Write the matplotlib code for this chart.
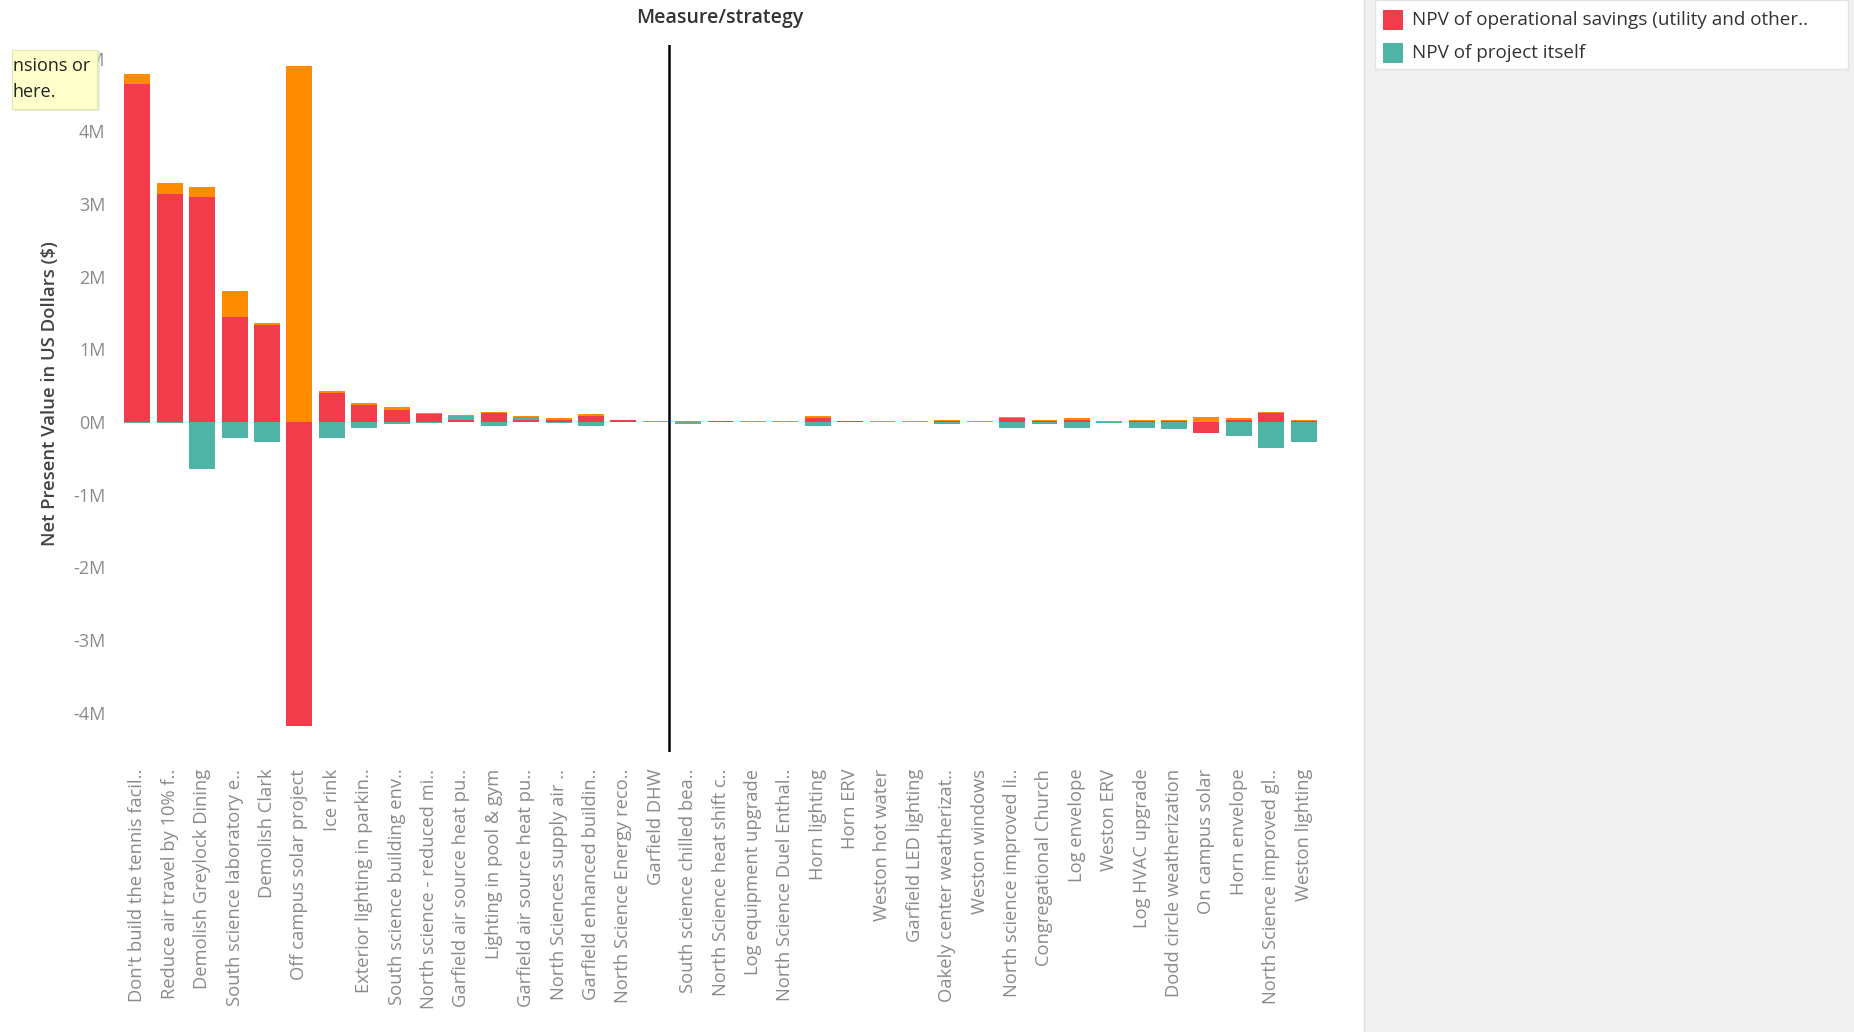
import matplotlib
matplotlib.use("Agg")
import matplotlib.pyplot as plt
import numpy as np
from matplotlib.patches import Rectangle

plt.rcParams['font.family'] = ['Open Sans', 'DejaVu Sans']

categories = [
    "Don't build the tennis facil..", "Reduce air travel by 10% f..", "Demolish Greylock Dining",
    "South science laboratory e..", "Demolish Clark", "Off campus solar project", "Ice rink",
    "Exterior lighting in parkin..", "South science building env..", "North science - reduced mi..",
    "Garfield air source heat pu..", "Lighting in pool & gym", "Garfield air source heat pu..",
    "North Sciences supply air ..", "Garfield enhanced buildin..", "North Science Energy reco..",
    "Garfield DHW", "South science chilled bea..", "North Science heat shift c..",
    "Log equipment upgrade", "North Science Duel Enthal..", "Horn lighting", "Horn ERV",
    "Weston hot water", "Garfield LED lighting", "Oakely center weatherizat..", "Weston windows",
    "North science improved li..", "Congregational Church", "Log envelope", "Weston ERV",
    "Log HVAC upgrade", "Dodd circle weatherization", "On campus solar", "Horn envelope",
    "North Science improved gl..", "Weston lighting",
]

# values in millions of US dollars
npv_operational = [4.65, 3.14, 3.10, 1.44, 1.33, -4.18, 0.40, 0.24, 0.17, 0.11,
                   0.03, 0.13, 0.03, 0.035, 0.09, 0.025, 0.0, 0.0, 0.015, 0.0,
                   0.0, 0.06, 0.015, 0.0, 0.0, 0.02, 0.0, 0.05, 0.02, 0.035,
                   0.0, 0.02, 0.02, -0.147, 0.035, 0.13, 0.02]
npv_project = [-0.01, -0.01, -0.64, -0.22, -0.28, 0.0, -0.215, -0.08, -0.03, -0.01,
               0.05, -0.055, 0.035, -0.01, -0.055, 0.0, 0.0, -0.02, 0.0, 0.0,
               0.0, -0.055, 0.0, 0.0, 0.0, -0.03, 0.0, -0.087, -0.03, -0.087,
               -0.015, -0.087, -0.10, 0.0, -0.19, -0.35, -0.275]
npv_other = [0.14, 0.15, 0.13, 0.36, 0.04, 4.90, 0.03, 0.02, 0.04, 0.02,
             0.015, 0.01, 0.015, 0.015, 0.015, 0.0, 0.015, 0.012, 0.0, 0.015,
             0.015, 0.02, 0.0, 0.015, 0.015, 0.015, 0.015, 0.02, 0.01, 0.015,
             0.012, 0.01, 0.01, 0.07, 0.015, 0.01, 0.01]

y_ticks = [5, 4, 3, 2, 1, 0, -1, -2, -3, -4]
y_tick_labels = ["5M", "4M", "3M", "2M", "1M", "0M", "-1M", "-2M", "-3M", "-4M"]

RED = "#F03C4B"
TEAL = "#4FB3A5"
ORANGE = "#FF8C00"

W, H = 1854, 1032
fig = plt.figure(figsize=(W / 100, H / 100), dpi=100)
fig.patch.set_facecolor("white")

# right gray panel
fig.patches.append(Rectangle((1364 / W, 0), 1 - 1364 / W, 1, transform=fig.transFigure,
                             facecolor="#F0F0F0", edgecolor="none", zorder=0))
fig.add_artist(plt.Line2D([1364 / W, 1364 / W], [0, 1], transform=fig.transFigure,
                          color="#E0E0E0", lw=1))

ax = fig.add_axes([118 / W, 280 / H, (1336 - 118) / W, (987 - 280) / H])
ax.set_facecolor("none")

x = np.arange(len(categories))
series = [(npv_operational, RED), (npv_project, TEAL), (npv_other, ORANGE)]
pos_bottom = np.zeros(len(x))
neg_bottom = np.zeros(len(x))
for vals, col in series:
    v = np.array(vals, dtype=float)
    bottom = np.where(v >= 0, pos_bottom, neg_bottom)
    ax.bar(x, v, width=0.8, bottom=bottom, color=col, linewidth=0, zorder=3)
    pos_bottom = pos_bottom + np.where(v > 0, v, 0)
    neg_bottom = neg_bottom + np.where(v < 0, v, 0)

ax.set_xlim(-0.6, 37.0)
ax.set_ylim(-4.54, 5.19)
ax.axvline(16.4, color="black", lw=1.8, zorder=4)

for s in ax.spines.values():
    s.set_visible(False)
ax.set_yticks(y_ticks)
ax.set_yticklabels(y_tick_labels, fontsize=13, color="#8A8A8A")
ax.set_xticks(x)
ax.set_xticklabels(categories, rotation=90, fontsize=13.2, color="#8A8A8A", va="top", ha="center")
ax.tick_params(axis="both", length=0)
ax.tick_params(axis="x", pad=12)
ax.tick_params(axis="y", pad=9)

fig.text(50 / W, 1 - 394 / H, "Net Present Value in US Dollars ($)", rotation=90,
         ha="center", va="center", fontsize=13.3, color="#444444", fontweight="semibold")
fig.text(720 / W, 1 - 18 / H, "Measure/strategy", ha="center", va="center",
         fontsize=14, color="#333333", fontweight="semibold")

# tooltip fragment at top-left
fig.patches.append(Rectangle((14 / W, 1 - 111 / H), 86 / W, 60 / H, transform=fig.transFigure,
                             facecolor="#D8D8C0", edgecolor="none", zorder=5, alpha=0.5))
fig.patches.append(Rectangle((12 / W, 1 - 109 / H), 85 / W, 59 / H, transform=fig.transFigure,
                             facecolor="#FFFFCC", edgecolor="#E6E6B0", lw=0.8, zorder=6))
fig.text(13 / W, 1 - 66 / H, "nsions or", ha="left", va="center", fontsize=13, color="#222222", zorder=7)
fig.text(13 / W, 1 - 92 / H, "here.", ha="left", va="center", fontsize=13, color="#222222", zorder=7)

# legend
fig.patches.append(Rectangle((1375 / W, 1 - 69 / H), (1848 - 1375) / W, 69 / H, transform=fig.transFigure,
                             facecolor="white", edgecolor="#E2E2E2", lw=1, zorder=2))
legend_items = [("NPV of operational savings (utility and other..", RED, 20),
                ("NPV of project itself", TEAL, 53)]
for label, col, yc in legend_items:
    fig.patches.append(Rectangle((1383 / W, 1 - (yc + 10) / H), 20 / W, 20 / H, transform=fig.transFigure,
                                 facecolor=col, edgecolor="none", zorder=3))
    fig.text(1412 / W, 1 - yc / H, label, ha="left", va="center", fontsize=13.6, color="#333333", zorder=3)

fig.savefig("out.png", dpi=100, facecolor=fig.get_facecolor())
